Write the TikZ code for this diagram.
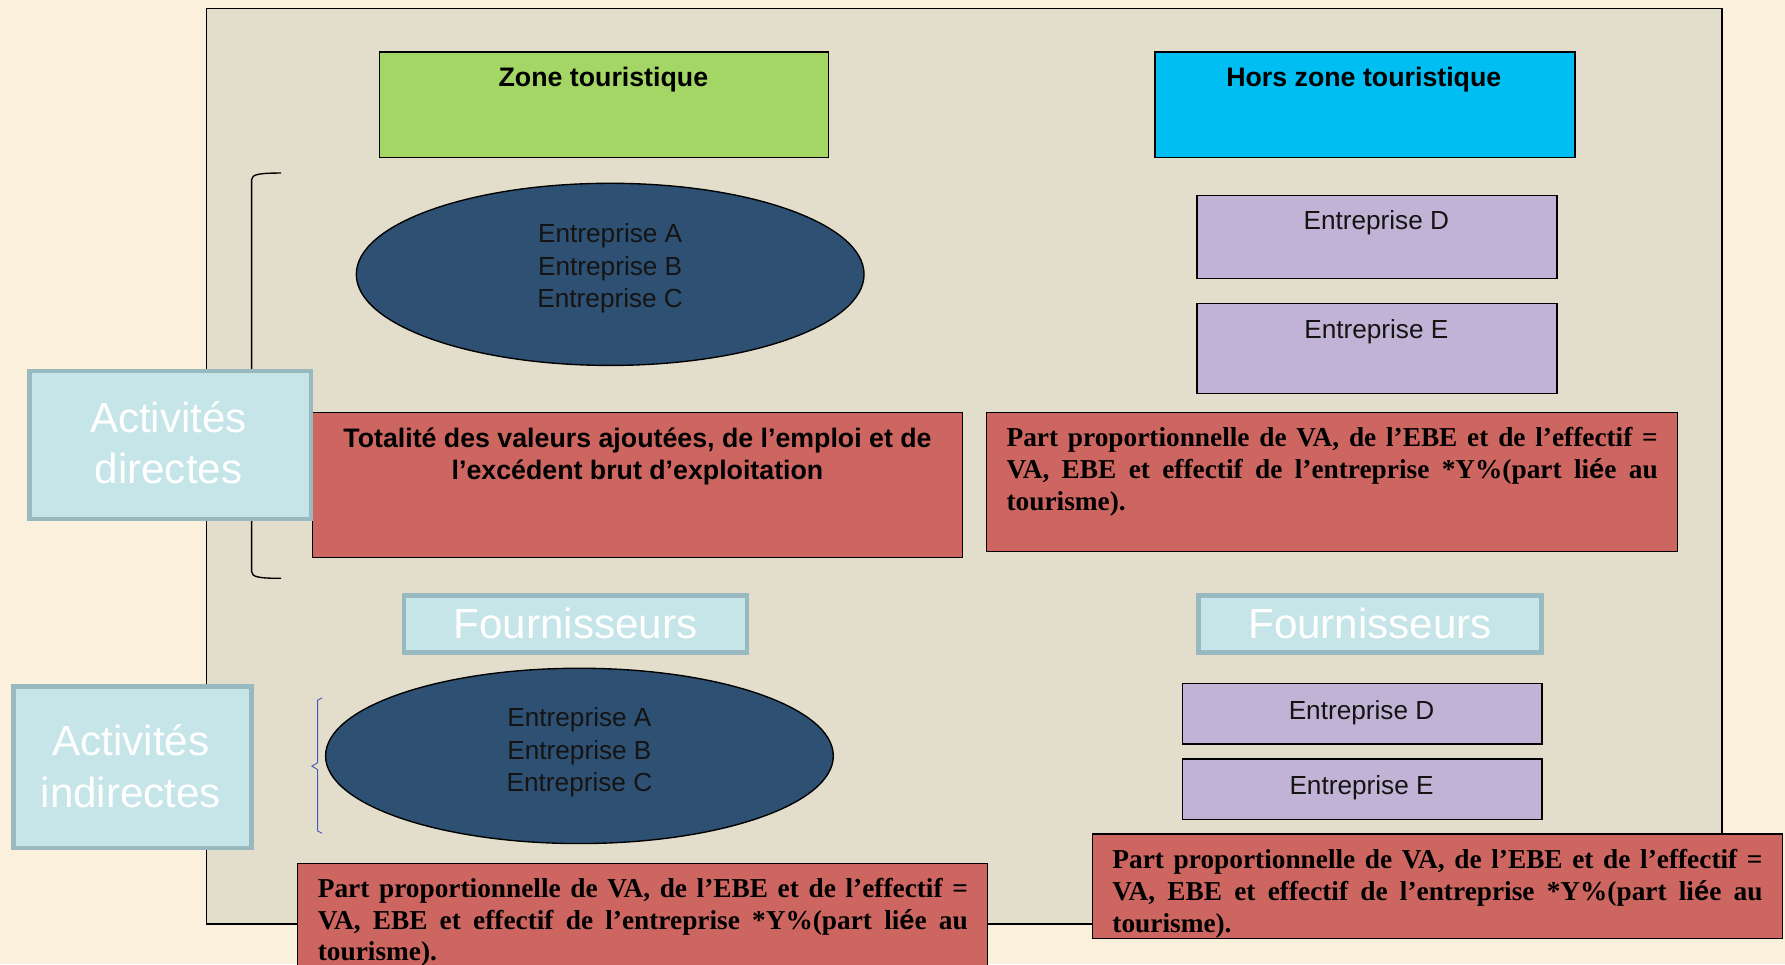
\documentclass[tikz,border=0pt]{standalone}
\usepackage{fontspec}
\setmainfont{Liberation Sans}
\newfontfamily\tnr{Liberation Serif}
\newfontfamily\arialf{Liberation Sans}
\usetikzlibrary{shapes.geometric}
\definecolor{bgc}{HTML}{FBF0DC}
\definecolor{panelc}{HTML}{E3DECB}
\definecolor{greenc}{HTML}{A3D665}
\definecolor{cyanc}{HTML}{00BDF2}
\definecolor{navy}{HTML}{2E5073}
\definecolor{lav}{HTML}{C0B3D5}
\definecolor{lcyan}{HTML}{C6E5E8}
\definecolor{lcyanb}{HTML}{98B9BF}
\definecolor{redc}{HTML}{CD6660}
\definecolor{bluebr}{HTML}{4B55C0}
\begin{document}
\begin{tikzpicture}[x=1pt,y=-1pt,
  panel/.style={draw=black,line width=1.2pt,fill=panelc,inner sep=0,anchor=north west},
  box/.style={draw=black,line width=1.2pt,inner sep=0,anchor=north west},
  lbl/.style={fill=lcyan,draw=lcyanb,line width=4pt,inner sep=0,anchor=north west,text=white,font=\fontsize{37}{45}\selectfont,align=center},
  ltxt/.style={text=white,font=\fontsize{37}{45}\selectfont,align=center,inner sep=0},
  ell/.style={ellipse,draw=black,line width=1.2pt,fill=navy,inner sep=0},
  etxt/.style={font=\fontsize{23}{28.5}\selectfont,align=center,text=black!92,inner sep=0},
  btxt/.style={font=\bfseries\fontsize{23.5}{28}\selectfont,align=center,inner sep=0},
  ptxt/.style={font=\tnr\bfseries\fontsize{24}{28}\selectfont,align=justify,inner sep=0,anchor=north west},
  brk/.style={line width=1.2pt},
  bbrk/.style={line width=0.8pt,draw=bluebr}
]
\useasboundingbox (0,0) rectangle (1568,847);
\fill[bgc] (0,0) rectangle (1568,847);
\node[panel,minimum width=1331,minimum height=804] (panel) at (181,7) {};

% headers
\node[box,fill=greenc,minimum width=394,minimum height=93] (zone) at (333,45) {};
\node[btxt,anchor=base] (zonet) at (530,76) {Zone touristique};
\node[box,fill=cyanc,minimum width=369,minimum height=93] (hors) at (1014,45) {};
\node[btxt,anchor=base] (horst) at (1198,76) {Hors zone touristique};

% bracket (directes)
\coordinate (b1a) at (247,152);
\coordinate (b1b) at (247,508);
\draw[brk] (b1a) .. controls (228,152) and (221,153) .. (221,158) -- (221,502) .. controls (221,507) and (228,508) .. (b1b);

% ellipse 1
\node[ell,minimum width=446,minimum height=160] (e1) at (536,241) {};
\node[etxt] (e1t) at (536,236) {Entreprise A\\Entreprise B\\Entreprise C};

% right boxes D/E
\node[box,fill=lav,minimum width=316,minimum height=73] (d1) at (1051,171) {};
\node[etxt,anchor=base] (d1t) at (1209,202) {Entreprise D};
\node[box,fill=lav,minimum width=316,minimum height=79] (ee1) at (1051,266) {};
\node[etxt,anchor=base] (ee1t) at (1209,297) {Entreprise E};

% red box 1
\node[box,fill=redc,minimum width=571,minimum height=127] (r1) at (274,362) {};
\node[btxt,anchor=north] (r1t) at (560,376) {Totalité des valeurs ajoutées, de l’emploi et de\\l’excédent brut d’exploitation};

% Activites directes
\node[lbl,minimum width=247,minimum height=130] (ad) at (24,324) {};
\node[ltxt] (adt) at (148,389) {Activités\\directes};

% red box 2
\node[box,fill=redc,minimum width=607,minimum height=122] (r2) at (866,362) {};
\node[ptxt,text width=572] (r2t) at (884,375) {Part proportionnelle de VA, de l’EBE et de l’effectif =\linebreak VA, EBE et effectif de l’entreprise *Y\%(part li{\arialf é}e au\linebreak tourisme).};

% Fournisseurs
\node[lbl,minimum width=301,minimum height=50] (f1) at (353,521) {Fournisseurs};
\node[lbl,minimum width=301,minimum height=50] (f2) at (1051,521) {Fournisseurs};

% Activites indirectes
\node[lbl,minimum width=209,minimum height=142] (ai) at (10,601) {};
\node[ltxt] (ait) at (115,673) {Activités\\indirectes};

% blue bracket
\coordinate (b2a) at (283,613);
\coordinate (b2b) at (283,732);
\draw[bbrk] (b2a) -- (279,615) -- (279,670) -- (274,673) -- (279,676) -- (279,730) -- (b2b);

% ellipse 2
\node[ell,minimum width=446,minimum height=154] (e2) at (509,664) {};
\node[etxt] (e2t) at (509,661) {Entreprise A\\Entreprise B\\Entreprise C};

% right boxes D/E (fournisseurs)
\node[box,fill=lav,minimum width=316,minimum height=53] (d2) at (1038,600) {};
\node[etxt,anchor=base] (d2t) at (1196,632) {Entreprise D};
\node[box,fill=lav,minimum width=316,minimum height=53] (ee2) at (1038,666) {};
\node[etxt,anchor=base] (ee2t) at (1196,698) {Entreprise E};

% red box 3
\node[box,fill=redc,minimum width=606,minimum height=120] (r3) at (261,758) {};
\node[ptxt,text width=571] (r3t) at (279,771) {Part proportionnelle de VA, de l’EBE et de l’effectif =\linebreak VA, EBE et effectif de l’entreprise *Y\%(part li{\arialf é}e au\linebreak tourisme).};

% red box 4
\node[box,fill=redc,minimum width=606,minimum height=92] (r4) at (959,732) {};
\node[ptxt,text width=571] (r4t) at (977,746) {Part proportionnelle de VA, de l’EBE et de l’effectif =\linebreak VA, EBE et effectif de l’entreprise *Y\%(part li{\arialf é}e au\linebreak tourisme).};
\end{tikzpicture}
\end{document}
